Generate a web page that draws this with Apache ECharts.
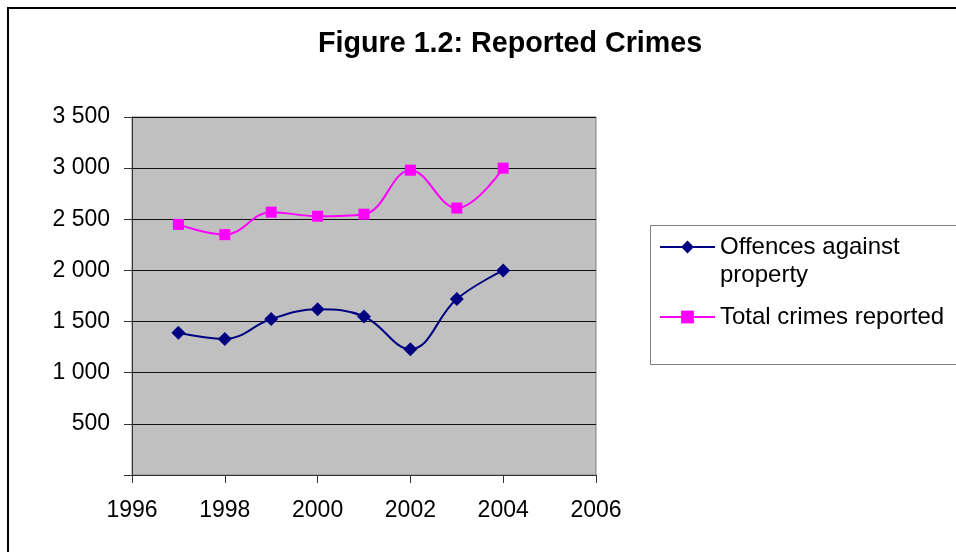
<!DOCTYPE html>
<html>
<head>
<meta charset="utf-8">
<script src="https://cdn.jsdelivr.net/npm/echarts@6/dist/echarts.min.js"></script>
<style>
  html, body { margin: 0; padding: 0; background: #fff; }
  #chart { width: 956px; height: 552px; }
</style>
</head>
<body>
<div id="chart"></div>
<script>
// Reported crimes per year
const years = [1997, 1998, 1999, 2000, 2001, 2002, 2003, 2004];
const offencesAgainstProperty = [1390, 1330, 1525, 1620, 1550, 1230, 1720, 2000];
const totalCrimesReported = [2450, 2350, 2570, 2530, 2550, 2980, 2610, 3000];
const seriesNames = ['Offences against property', 'Total crimes reported'];
const xTicks = [1996, 1998, 2000, 2002, 2004, 2006];
const yTicks = [0, 500, 1000, 1500, 2000, 2500, 3000, 3500];
const chartTitle = 'Figure 1.2: Reported Crimes';

const FONT = '"Liberation Sans", Arial, sans-serif';

// "3 500" style: space as thousands separator, zero left blank
function fmtY(v) {
  if (v === 0) return '';
  if (v >= 1000) return Math.floor(v / 1000) + ' ' + String(v % 1000).padStart(3, '0');
  return String(v);
}

const chart = echarts.init(document.getElementById('chart'), null, { renderer: 'canvas' });

const legendText = { fontFamily: FONT, fontSize: 24, lineHeight: 28, color: '#000' };

chart.setOption({
  backgroundColor: '#ffffff',
  animation: false,
  title: {
    text: chartTitle,
    left: 318,
    top: 30,
    padding: 0,
    textStyle: { fontFamily: FONT, fontSize: 28.7, fontWeight: 'bold', color: '#000' }
  },
  graphic: [
    { // outer frame
      type: 'rect', z: -10,
      shape: { x: 8, y: 8, width: 1000, height: 600 },
      style: { fill: 'none', stroke: '#000', lineWidth: 2 }
    },
    { // legend frame
      type: 'rect', z: 1,
      shape: { x: 650.5, y: 225.5, width: 400, height: 139 },
      style: { fill: '#fff', stroke: '#808080', lineWidth: 1 }
    }
  ],
  legend: [
    {
      // blank first line keeps the icon level with "Offences against"
      data: [seriesNames[0]],
      left: 659, top: 205, padding: 0, z: 5,
      itemWidth: 55, itemHeight: 16, itemGap: 0,
      formatter: () => ' \nOffences against\nproperty',
      textStyle: legendText
    },
    {
      data: [seriesNames[1]],
      left: 659, top: 303, padding: 0, z: 5,
      itemWidth: 55, itemHeight: 16,
      textStyle: legendText
    }
  ],
  grid: {
    left: 132, top: 117, right: 360, bottom: 77,
    show: true, backgroundColor: '#c0c0c0', borderColor: '#808080', borderWidth: 1
  },
  xAxis: {
    type: 'value',
    min: xTicks[0], max: xTicks[xTicks.length - 1], interval: xTicks[1] - xTicks[0],
    axisLine: { show: true, lineStyle: { color: '#333', width: 1 } },
    axisTick: { show: true, length: 8, inside: false, lineStyle: { color: '#333' } },
    splitLine: { show: false },
    axisLabel: {
      margin: 24, fontFamily: FONT, fontSize: 23, color: '#000',
      formatter: v => String(v)
    }
  },
  yAxis: {
    type: 'value',
    min: yTicks[0], max: yTicks[yTicks.length - 1], interval: yTicks[1] - yTicks[0],
    axisLine: { show: true, lineStyle: { color: '#333', width: 1 } },
    axisTick: { show: true, length: 8, inside: false, lineStyle: { color: '#333' } },
    splitLine: { show: true, lineStyle: { color: '#111', width: 1 } },
    axisLabel: {
      margin: 22, fontFamily: FONT, fontSize: 23, color: '#000',
      formatter: fmtY
    }
  },
  series: [
    {
      name: seriesNames[0], type: 'line', smooth: 0.4,
      data: years.map((y, i) => [y, offencesAgainstProperty[i]]),
      symbol: 'diamond', symbolSize: 14,
      lineStyle: { color: '#000080', width: 2 },
      itemStyle: { color: '#000080' },
      z: 3
    },
    {
      name: seriesNames[1], type: 'line', smooth: 0.4,
      data: years.map((y, i) => [y, totalCrimesReported[i]]),
      symbol: 'rect', symbolSize: 11,
      lineStyle: { color: '#ff00ff', width: 2 },
      itemStyle: { color: '#ff00ff' },
      z: 3
    }
  ]
});
</script>
</body>
</html>
